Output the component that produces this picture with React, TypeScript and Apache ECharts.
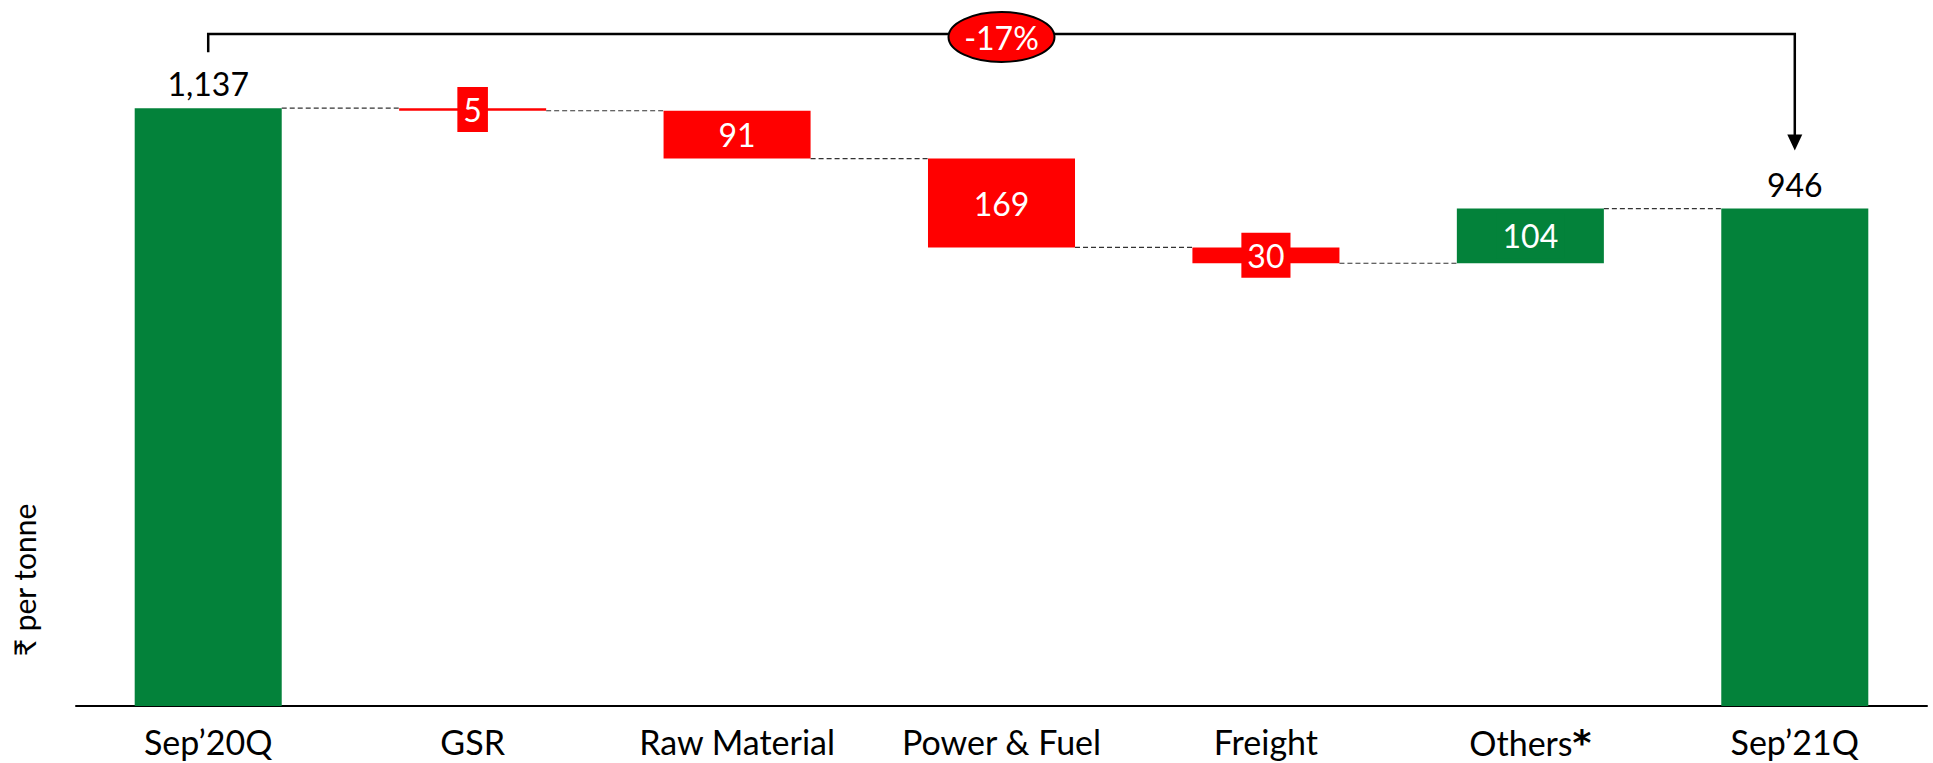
import React, { useEffect, useRef } from "react";
import * as echarts from "echarts";

const categories = ["Sep’20Q", "GSR", "Raw Material", "Power & Fuel", "Freight", "Others*", "Sep’21Q"];
const openingValue = 1137;
const changes = [-5, -91, -169, -30, 104];
const closingValue = 946;
const yAxisTitle = "₹ per tonne";

const GREEN = "#03823A";
const RED = "#FF0000";
const FONT = "Lato, 'Noto Sans', 'DejaVu Sans', sans-serif";
const BAR_RATIO = 0.556;

export default function App() {
  const ref = useRef<HTMLDivElement>(null);

  useEffect(() => {
    const chart = echarts.init(ref.current!, null, { renderer: "svg" });

    const base: number[] = [0];
    const heights: number[] = [openingValue];
    const colors: string[] = [GREEN];
    const levels: number[] = [openingValue];
    let run = openingValue;
    changes.forEach((c) => {
      const next = run + c;
      base.push(Math.min(run, next));
      heights.push(Math.abs(c));
      colors.push(c < 0 ? RED : GREEN);
      run = next;
      levels.push(run);
    });
    base.push(0);
    heights.push(closingValue);
    colors.push(GREEN);

    const pct = Math.round(((closingValue - openingValue) / openingValue) * 100);
    const pctText = `${pct}%`;

    const last = categories.length - 1;

    chart.setOption({
      animation: false,
      backgroundColor: "#ffffff",
      grid: { left: 76, right: 6, top: 75, bottom: 57 },
      xAxis: {
        type: "category",
        data: categories,
        axisTick: { show: false },
        axisLine: { lineStyle: { color: "#000", width: 2 } },
        axisLabel: {
          color: "#000",
          fontSize: 34,
          fontFamily: FONT,
          margin: 18,
          interval: 0,
          formatter: (v: string) => (v.endsWith("*") ? v.slice(0, -1) + "{b|*}" : v),
          rich: { b: { fontWeight: 900, fontSize: 36, fontFamily: "'DejaVu Sans', sans-serif", color: "#000" } },
        },
      },
      yAxis: {
        type: "value",
        min: 0,
        max: 1200,
        axisLine: { show: false },
        axisTick: { show: false },
        axisLabel: { show: false },
        splitLine: { show: false },
      },
      graphic: [
        {
          type: "text",
          x: 24,
          y: 580,
          rotation: Math.PI / 2,
          style: {
            text: yAxisTitle,
            fill: "#000",
            font: `30px ${FONT}`,
            textAlign: "center",
            textVerticalAlign: "middle",
            align: "center",
            verticalAlign: "middle",
          },
        },
      ],
      series: [
        {
          type: "bar",
          stack: "wf",
          barWidth: `${BAR_RATIO * 100}%`,
          silent: true,
          itemStyle: { color: "transparent" },
          data: base,
        },
        {
          type: "bar",
          stack: "wf",
          barWidth: `${BAR_RATIO * 100}%`,
          silent: true,
          z: 3,
          data: heights.map((h, i) => ({
            value: h,
            itemStyle: { color: colors[i] },
            label:
              i === 0 || i === last
                ? { position: "top", color: "#000", distance: 8 }
                : { position: "inside", color: "#fff", backgroundColor: colors[i], padding: [6, 6] },
          })),
          label: {
            show: true,
            fontSize: 32,
            lineHeight: 33,
            fontFamily: FONT,
            formatter: (p: any) => Number(p.value).toLocaleString("en-US"),
          },
        },
        {
          type: "custom",
          coordinateSystem: "cartesian2d",
          silent: true,
          clip: false,
          z: 1,
          data: levels.map((l, i) => [i, l]),
          renderItem: (params: any, api: any) => {
            const p = api.coord([api.value(0), api.value(1)]);
            const band = api.size([1, 0])[0];
            const half = (band * BAR_RATIO) / 2;
            return {
              type: "line",
              shape: { x1: p[0] + half, y1: p[1], x2: p[0] + band - half, y2: p[1] },
              style: { stroke: "#333333", lineWidth: 1.2, lineDash: [5, 3] },
            };
          },
        },
        {
          type: "custom",
          coordinateSystem: "cartesian2d",
          silent: true,
          clip: false,
          z: 5,
          data: [[0, openingValue, last, closingValue]],
          renderItem: (params: any, api: any) => {
            const a = api.coord([api.value(0), api.value(1)]);
            const b = api.coord([api.value(2), api.value(3)]);
            const yTop = 34;
            const x1 = a[0];
            const x2 = b[0];
            const leftEnd = a[1] - 56;
            const tip = b[1] - 58;
            const cx = (x1 + x2) / 2;
            return {
              type: "group",
              children: [
                {
                  type: "polyline",
                  shape: { points: [[x1, leftEnd], [x1, yTop], [x2, yTop], [x2, tip - 14]] },
                  style: { stroke: "#000", lineWidth: 2.5, fill: null },
                },
                {
                  type: "polygon",
                  shape: { points: [[x2 - 7.5, tip - 16], [x2 + 7.5, tip - 16], [x2, tip]] },
                  style: { fill: "#000" },
                },
                {
                  type: "ellipse",
                  shape: { cx, cy: 37, rx: 53, ry: 25 },
                  style: { fill: RED, stroke: "#000", lineWidth: 2 },
                },
                {
                  type: "text",
                  style: {
                    text: pctText,
                    x: cx,
                    y: 37,
                    fill: "#fff",
                    font: `32px ${FONT}`,
                    textAlign: "center",
                    textVerticalAlign: "middle",
                    align: "center",
                    verticalAlign: "middle",
                  },
                },
              ],
            };
          },
        },
      ],
    });

    return () => chart.dispose();
  }, []);

  return (
    <div
      ref={ref}
      style={{ position: "fixed", left: 0, top: 0, width: 1933, height: 763, background: "#fff" }}
    />
  );
}
